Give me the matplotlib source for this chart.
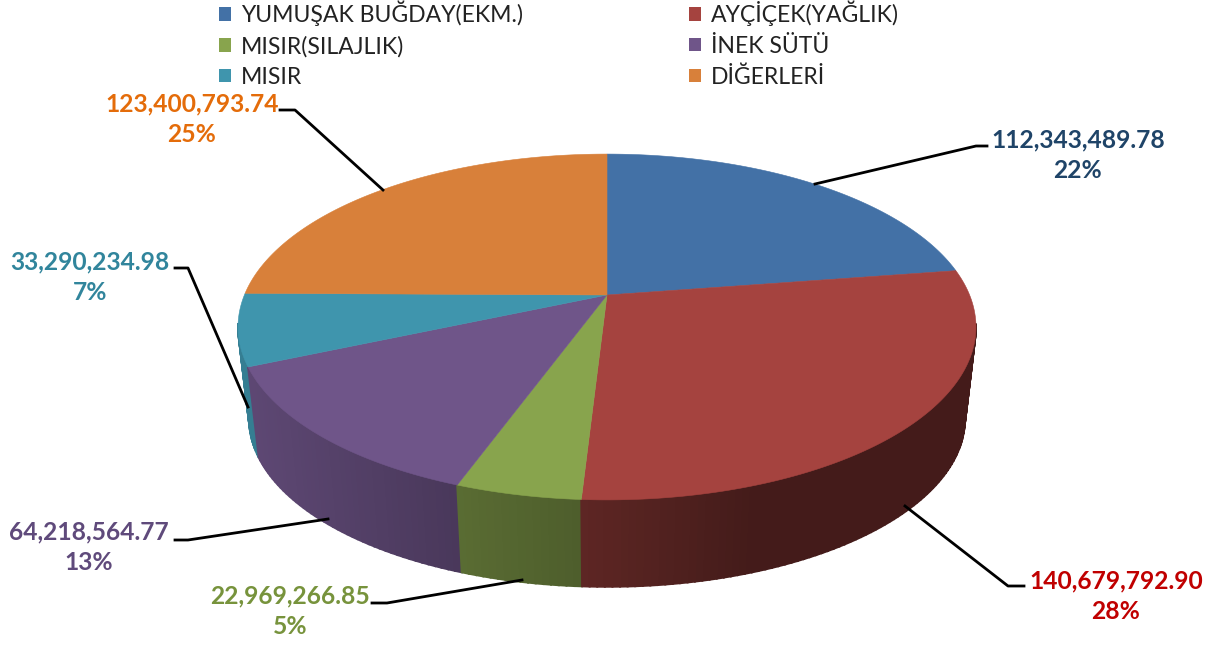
import numpy as np
import matplotlib
matplotlib.use("Agg")
import matplotlib.pyplot as plt
from matplotlib.patches import Polygon, Patch

categories = ["YUMUŞAK BUĞDAY(EKM.)", "AYÇİÇEK(YAĞLIK)", "MISIR(SILAJLIK)", "İNEK SÜTÜ", "MISIR", "DİĞERLERİ"]
values = [112343489.78, 140679792.90, 22969266.85, 64218564.77, 33290234.98, 123400793.74]
percent_labels = ["22%", "28%", "5%", "13%", "7%", "25%"]
top_colors = ["#4371A6", "#A5433F", "#88A44D", "#6F5589", "#3F95AD", "#D8803A"]
text_colors = ["#1F4468", "#C00000", "#77933C", "#5F4A7B", "#31859C", "#E46C0A"]

# label centres and leader-line routes, in pixels of the 1211x645 canvas
label_xy = [(1078, 155), (1116, 596), (290, 611), (89, 547), (90, 277), (192, 119)]
leaders = [
    [(815, 184), (976, 146), (987, 146)],
    [(905, 506), (1008, 586), (1024, 586)],
    [(522, 580), (387, 603), (372, 603)],
    [(328, 519), (188, 540), (175, 540)],
    [(248, 407), (188, 268), (175, 268)],
    [(383, 190), (295, 110), (280, 110)],
]

# perspective of the pie
CX, CY, A, B, K = 607.0, 295.0, 362.6, 167.0, 0.185
WALL_SCALE, WALL_DROP = 0.97, 93.0
WALL_VISIBLE_BELOW = -0.17
SHADE_X = [245, 460, 582, 750, 980]
SHADE_F = [0.85, 0.66, 0.57, 0.41, 0.41]


def rim(theta):
    u, v = np.sin(theta), np.cos(theta)
    d = 1 + K * v
    return A * u / d, B * v / d


def top_pt(theta):
    x, h = rim(theta)
    return CX + x, CY - h


def low_pt(theta):
    x, h = rim(theta)
    return CX + WALL_SCALE * x, CY - WALL_SCALE * h + WALL_DROP


plt.rcParams["font.family"] = ["Lato", "DejaVu Sans"]
fig = plt.figure(figsize=(12.11, 6.45), dpi=100)
ax = fig.add_axes([0, 0, 1, 1])
ax.set_xlim(0, 1211)
ax.set_ylim(645, 0)
ax.axis("off")

fractions = np.array(values) / np.sum(values)
edges = np.concatenate([[0], np.cumsum(fractions)]) * 2 * np.pi

# side wall: thin quads, back to front; the far side is hidden by the top face
quads = []
for i in range(len(values)):
    n = max(2, int(np.degrees(edges[i + 1] - edges[i])))
    th = np.linspace(edges[i], edges[i + 1], n + 1)
    for a, b in zip(th[:-1], th[1:]):
        depth = np.cos((a + b) / 2)
        if depth < WALL_VISIBLE_BELOW:
            quads.append((depth, i, a, b))
quads.sort(key=lambda q: -q[0])
for _, i, a, b in quads:
    pts = [top_pt(a), top_pt(b), low_pt(b), low_pt(a)]
    xm = np.mean([p[0] for p in pts])
    f = np.interp(xm, SHADE_X, SHADE_F)
    col = np.array(matplotlib.colors.to_rgb(top_colors[i])) * f
    ax.add_patch(Polygon(pts, closed=True, facecolor=col, edgecolor=col, linewidth=1.4, zorder=2))

# top face
for i in range(len(values)):
    th = np.linspace(edges[i], edges[i + 1], 200)
    pts = [(CX, CY)] + [top_pt(t) for t in th]
    ax.add_patch(Polygon(pts, closed=True, facecolor=top_colors[i], edgecolor=top_colors[i],
                         linewidth=0.4, zorder=3))

# labels and leaders
for i, v in enumerate(values):
    xs, ys = zip(*leaders[i])
    ax.plot(xs, ys, color="black", linewidth=2.0, zorder=4, solid_joinstyle="round")
    ax.text(label_xy[i][0], label_xy[i][1], f"{v:,.2f}\n{percent_labels[i]}", color=text_colors[i],
            ha="center", va="center", fontsize=17.7, fontweight="bold", linespacing=1.42, zorder=5)

# legend, filled column by column
order = [0, 2, 4, 1, 3, 5]
handles = [Patch(facecolor=top_colors[i], edgecolor="none", label=categories[i]) for i in order]
ax.legend(handles=handles, ncol=2, frameon=False, loc="upper left",
          bbox_to_anchor=(219 / 1211, 1 - 0.5 / 645), borderaxespad=0, borderpad=0,
          fontsize=16.6, labelcolor="#222222", handlelength=0.52, handleheight=0.52,
          handletextpad=0.43, labelspacing=0.415, columnspacing=7.2)

fig.savefig("out.png", dpi=100, facecolor="white")
